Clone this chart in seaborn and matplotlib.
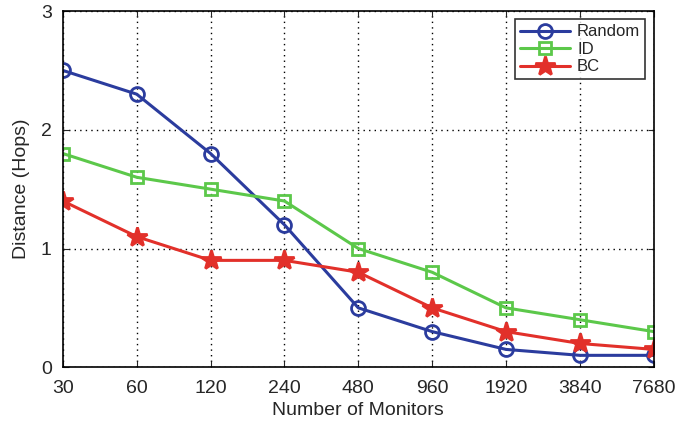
import pandas as pd
import matplotlib
matplotlib.use("Agg")
import matplotlib.pyplot as plt
import seaborn as sns

# data
monitors = ["30", "60", "120", "240", "480", "960", "1920", "3840", "7680"]
random_hops = [2.5, 2.3, 1.8, 1.2, 0.5, 0.3, 0.15, 0.1, 0.1]
id_hops = [1.8, 1.6, 1.5, 1.4, 1.0, 0.8, 0.5, 0.4, 0.3]
bc_hops = [1.4, 1.1, 0.9, 0.9, 0.8, 0.5, 0.3, 0.2, 0.15]

sns.set_style("ticks")
plt.rcParams["font.family"] = ["Liberation Sans", "DejaVu Sans"]

pos = list(range(len(monitors)))
df = pd.DataFrame({"pos": pos * 3,
                   "hops": random_hops + id_hops + bc_hops,
                   "method": ["Random"] * 9 + ["ID"] * 9 + ["BC"] * 9})

fig = plt.figure(figsize=(6.76, 4.26), dpi=100)
ax = fig.add_axes([0.093, 0.138, 0.874, 0.836])

styles = {"Random": ("#2b3c9e", "o", 10, "none"),
          "ID": ("#5cc84a", "s", 8, "none"),
          "BC": ("#e2302a", "*", 15, None)}
for name in ["Random", "ID", "BC"]:
    c, m, ms, fc = styles[name]
    sub = df[df["method"] == name]
    sns.lineplot(data=sub, x="pos", y="hops", ax=ax, color=c, marker=m,
                 markersize=ms, markerfacecolor=(fc if fc else c),
                 markeredgecolor=c, markeredgewidth=2, linewidth=2.2,
                 label=name)

ax.set_xlim(0, len(monitors) - 1)
ax.set_ylim(0, 3)
ax.set_xticks(pos)
ax.set_xticklabels(monitors)
ax.set_yticks([0, 1, 2, 3])
ax.grid(True, linestyle=(0, (1, 3)), color="black", linewidth=1)
ax.tick_params(direction="in", top=True, right=True, labelsize=14, length=4)
ax.tick_params(axis="x", pad=9)
ax.tick_params(axis="y", pad=8)
for s in ax.spines.values():
    s.set_linewidth(1.2)
    s.set_color("black")
ax.set_xlabel("Number of Monitors", fontsize=14, labelpad=4)
ax.set_ylabel("Distance (Hops)", fontsize=14, labelpad=8)

leg = ax.legend(loc="upper right", fontsize=12, frameon=True, fancybox=False,
                edgecolor="black", handlelength=3, borderpad=0.3,
                labelspacing=0.15, handletextpad=0.4)
leg.get_frame().set_linewidth(1.2)

fig.savefig("out.png", dpi=100)
